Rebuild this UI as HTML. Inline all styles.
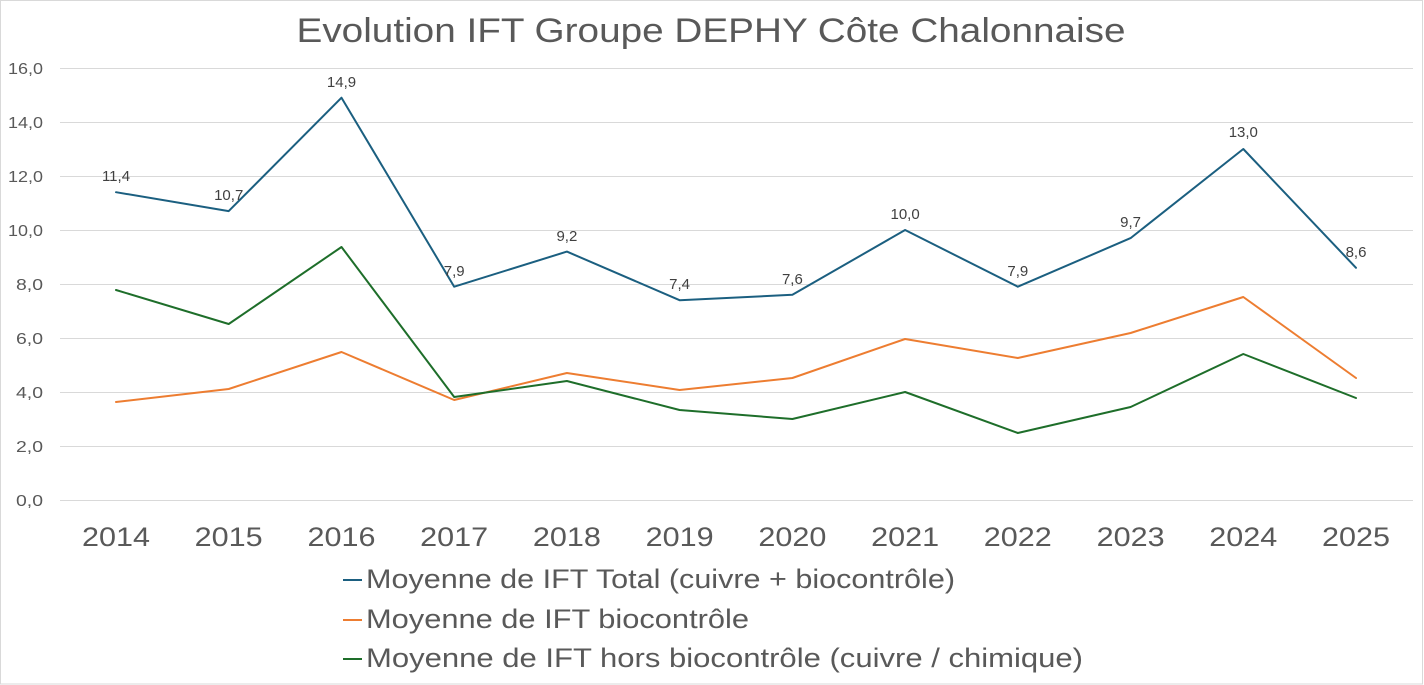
<!DOCTYPE html>
<html><head><meta charset="utf-8"><style>
html,body{margin:0;padding:0;background:#fff;}
svg{display:block;}
text{font-family:"Liberation Sans",sans-serif;}
</style></head><body>
<svg width="1424" height="685" viewBox="0 0 1424 685" xmlns="http://www.w3.org/2000/svg">
<rect x="0.5" y="0.5" width="1422" height="683.5" fill="#fff" stroke="#d9d9d9" stroke-width="1"/>
<text x="711" y="42" text-anchor="middle" font-size="34" fill="#595959" textLength="829" lengthAdjust="spacingAndGlyphs">Evolution IFT Groupe DEPHY Côte Chalonnaise</text>
<g stroke="#d9d9d9" stroke-width="1">
<line x1="60" y1="68.5" x2="1413" y2="68.5"/>
<line x1="60" y1="122.5" x2="1413" y2="122.5"/>
<line x1="60" y1="176.5" x2="1413" y2="176.5"/>
<line x1="60" y1="230.5" x2="1413" y2="230.5"/>
<line x1="60" y1="284.5" x2="1413" y2="284.5"/>
<line x1="60" y1="338.5" x2="1413" y2="338.5"/>
<line x1="60" y1="392.5" x2="1413" y2="392.5"/>
<line x1="60" y1="446.5" x2="1413" y2="446.5"/>
<line x1="60" y1="500.5" x2="1413" y2="500.5"/>
</g>
<g font-size="16" fill="#595959" text-anchor="end">
<text x="43" y="74" textLength="35" lengthAdjust="spacingAndGlyphs">16,0</text>
<text x="43" y="128" textLength="35" lengthAdjust="spacingAndGlyphs">14,0</text>
<text x="43" y="182" textLength="35" lengthAdjust="spacingAndGlyphs">12,0</text>
<text x="43" y="236" textLength="35" lengthAdjust="spacingAndGlyphs">10,0</text>
<text x="43" y="290" textLength="27" lengthAdjust="spacingAndGlyphs">8,0</text>
<text x="43" y="344" textLength="27" lengthAdjust="spacingAndGlyphs">6,0</text>
<text x="43" y="398" textLength="27" lengthAdjust="spacingAndGlyphs">4,0</text>
<text x="43" y="452" textLength="27" lengthAdjust="spacingAndGlyphs">2,0</text>
<text x="43" y="506" textLength="27" lengthAdjust="spacingAndGlyphs">0,0</text>
</g>
<g font-size="27" fill="#595959" text-anchor="middle">
<text x="116" y="546" textLength="68" lengthAdjust="spacingAndGlyphs">2014</text>
<text x="228.7" y="546" textLength="68" lengthAdjust="spacingAndGlyphs">2015</text>
<text x="341.5" y="546" textLength="68" lengthAdjust="spacingAndGlyphs">2016</text>
<text x="454.2" y="546" textLength="68" lengthAdjust="spacingAndGlyphs">2017</text>
<text x="566.9" y="546" textLength="68" lengthAdjust="spacingAndGlyphs">2018</text>
<text x="679.6" y="546" textLength="68" lengthAdjust="spacingAndGlyphs">2019</text>
<text x="792.4" y="546" textLength="68" lengthAdjust="spacingAndGlyphs">2020</text>
<text x="905.1" y="546" textLength="68" lengthAdjust="spacingAndGlyphs">2021</text>
<text x="1017.8" y="546" textLength="68" lengthAdjust="spacingAndGlyphs">2022</text>
<text x="1130.6" y="546" textLength="68" lengthAdjust="spacingAndGlyphs">2023</text>
<text x="1243.3" y="546" textLength="68" lengthAdjust="spacingAndGlyphs">2024</text>
<text x="1356" y="546" textLength="68" lengthAdjust="spacingAndGlyphs">2025</text>
</g>
<g fill="none" stroke-width="2" stroke-linejoin="round" stroke-linecap="round">
<polyline stroke="#ED7D31" points="116,402 228.7,389 341.5,352 454.2,400 566.9,373 679.6,390 792.4,378 905.1,339 1017.8,358 1130.6,333 1243.3,297 1356,378"/>
<polyline stroke="#1E6E2A" points="116,290 228.7,324 341.5,247 454.2,397 566.9,381 679.6,410 792.4,419 905.1,392 1017.8,433 1130.6,407 1243.3,354 1356,398"/>
<polyline stroke="#1B5F80" points="116,192.2 228.7,211.1 341.5,97.7 454.2,286.7 566.9,251.6 679.6,300.2 792.4,294.8 905.1,230 1017.8,286.7 1130.6,238.1 1243.3,149 1356,267.8"/>
</g>
<g font-size="15" fill="#404040" text-anchor="middle">
<text x="116" y="181">11,4</text>
<text x="228.7" y="200">10,7</text>
<text x="341.5" y="87">14,9</text>
<text x="454.2" y="276">7,9</text>
<text x="566.9" y="241">9,2</text>
<text x="679.6" y="289">7,4</text>
<text x="792.4" y="284">7,6</text>
<text x="905.1" y="219">10,0</text>
<text x="1017.8" y="276">7,9</text>
<text x="1130.6" y="227">9,7</text>
<text x="1243.3" y="137">13,0</text>
<text x="1356" y="257">8,6</text>
</g>
<g stroke-width="2">
<line x1="343" y1="580" x2="362" y2="580" stroke="#1B5F80"/>
<line x1="343" y1="620" x2="362" y2="620" stroke="#ED7D31"/>
<line x1="343" y1="659" x2="362" y2="659" stroke="#1E6E2A"/>
</g>
<g font-size="27" fill="#595959">
<text x="366" y="588" textLength="589" lengthAdjust="spacingAndGlyphs">Moyenne de IFT Total (cuivre + biocontrôle)</text>
<text x="366" y="628" textLength="383" lengthAdjust="spacingAndGlyphs">Moyenne de IFT biocontrôle</text>
<text x="366" y="667" textLength="717" lengthAdjust="spacingAndGlyphs">Moyenne de IFT hors biocontrôle (cuivre / chimique)</text>
</g>
</svg>
</body></html>
